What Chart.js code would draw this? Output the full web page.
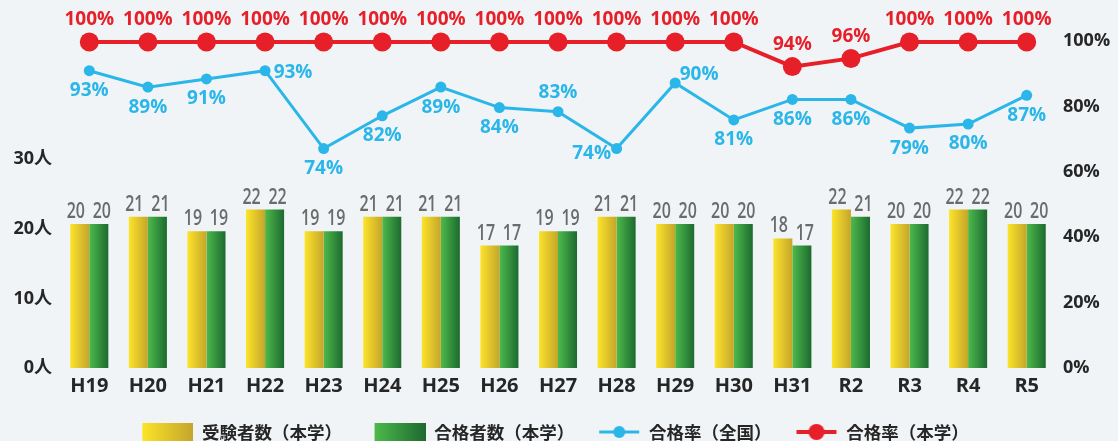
<!DOCTYPE html>
<html lang="ja">
<head>
<meta charset="utf-8">
<title>合格率の推移</title>
<script src="https://cdn.jsdelivr.net/npm/chart.js@4.4.1/dist/chart.umd.min.js"></script>
<style>
  html, body { margin: 0; padding: 0; background: #f1f4f6; }
  #wrap { width: 1118px; height: 441px; }
</style>
</head>
<body>
<div id="wrap"><canvas id="passChart" width="1118" height="441"></canvas></div>
<script>
const years = ['H19', 'H20', 'H21', 'H22', 'H23', 'H24', 'H25', 'H26', 'H27', 'H28', 'H29', 'H30', 'H31', 'R2', 'R3', 'R4', 'R5'];
const examinees = [20, 21, 19, 22, 19, 21, 21, 17, 19, 21, 20, 20, 18, 22, 20, 22, 20];
const passers = [20, 21, 19, 22, 19, 21, 21, 17, 19, 21, 20, 20, 17, 21, 20, 22, 20];
const rateNational = [93, 89, 91, 93, 74, 82, 89, 84, 83, 74, 90, 81, 86, 86, 79, 80, 87];
const rateSchool = [100, 100, 100, 100, 100, 100, 100, 100, 100, 100, 100, 100, 94, 96, 100, 100, 100];
const countTicks = [0, 10, 20, 30];
const rateTicks = [0, 20, 40, 60, 80, 100];
const legendNames = ['受験者数（本学）', '合格者数（本学）', '合格率（全国）', '合格率（本学）'];

// where each national-rate label sits next to its point
const nationalLabelPos = ['b', 'b', 'b', 'r', 'b', 'b', 'b', 'b', 'a', 'l', 'ra', 'b', 'b', 'b', 'b', 'b', 'b'];
const labelOffsets = { b: [0, 20], a: [0, -19], r: [28, 2], l: [-25, 5], ra: [24, -8] };
// extra space after each key entry (the printed key is not evenly spaced)
const legendTail = ['\u2002\u2002', '', '', ''];

const YELLOW = ['#fce42a', '#c5a52b'];
const GREEN = ['#4dba4b', '#1d6a30'];
const BLUE = '#2bb6e9';
const RED = '#e61f29';
const INK = '#262626';

function barIcon(colors) {
    const c = document.createElement('canvas');
    c.width = 52; c.height = 20;
    const g = c.getContext('2d');
    const grad = g.createLinearGradient(1, 0, 52, 0);
    grad.addColorStop(0, colors[0]);
    grad.addColorStop(1, colors[1]);
    g.fillStyle = grad;
    g.fillRect(1, 1, 51, 18);
    return c;
}

function lineIcon(color, r, w) {
    const c = document.createElement('canvas');
    c.width = 52; c.height = 20;
    const g = c.getContext('2d');
    g.strokeStyle = color;
    g.lineWidth = w;
    g.beginPath();
    g.moveTo(11, 10); g.lineTo(51, 10);
    g.stroke();
    g.fillStyle = color;
    g.beginPath();
    g.arc(31, 10, r, 0, Math.PI * 2);
    g.fill();
    return c;
}

const legendIcons = [barIcon(YELLOW), barIcon(GREEN), lineIcon(BLUE, 6, 3), lineIcon(RED, 8, 4)];

// gradients need the bar's final x and width, so they are set just before drawing
const barGradients = {
    id: 'barGradients',
    beforeDatasetsDraw(chart) {
        const ctx = chart.ctx;
        chart.data.datasets.forEach((ds, i) => {
            if (ds.type !== 'bar') return;
            chart.getDatasetMeta(i).data.forEach(bar => {
                const g = ctx.createLinearGradient(bar.x - bar.width / 2, 0, bar.x + bar.width / 2, 0);
                g.addColorStop(0, ds.grad[0]);
                g.addColorStop(1, ds.grad[1]);
                bar.options.backgroundColor = g;
            });
        });
    }
};

const valueLabels = {
    id: 'valueLabels',
    afterDatasetsDraw(chart) {
        const ctx = chart.ctx;
        ctx.save();
        ctx.textAlign = 'center';
        ctx.textBaseline = 'middle';
        chart.data.datasets.forEach((ds, i) => {
            const meta = chart.getDatasetMeta(i);
            meta.data.forEach((el, j) => {
                if (ds.type === 'bar') {
                    ctx.font = '600 21px "Open Sans", sans-serif';
                    ctx.fillStyle = '#6b6b6b';
                    ctx.save();
                    ctx.translate(el.x + (i === 0 ? -4 : 3), el.y - 12);
                    ctx.scale(0.76, 1);
                    ctx.fillText(String(ds.data[j]), 0, 0);
                    ctx.restore();
                } else {
                    ctx.font = 'bold 19px "Open Sans", sans-serif';
                    ctx.fillStyle = ds.borderColor;
                    const off = ds.label === legendNames[2] ? labelOffsets[nationalLabelPos[j]] : [0, -22];
                    ctx.fillText(ds.data[j] + '%', el.x + off[0], el.y + off[1]);
                }
            });
        });
        ctx.restore();
    }
};

new Chart(document.getElementById('passChart'), {
    data: {
        labels: years,
        datasets: [{
            type: 'bar',
            label: legendNames[0],
            data: examinees,
            yAxisID: 'yBar',
            grad: YELLOW,
            backgroundColor: () => YELLOW[0],
            categoryPercentage: 0.65,
            barPercentage: 1,
            order: 2
        }, {
            type: 'bar',
            label: legendNames[1],
            data: passers,
            yAxisID: 'yBar',
            grad: GREEN,
            backgroundColor: () => GREEN[0],
            categoryPercentage: 0.65,
            barPercentage: 1,
            order: 2
        }, {
            type: 'line',
            label: legendNames[2],
            data: rateNational,
            yAxisID: 'yRate',
            borderColor: BLUE,
            backgroundColor: BLUE,
            borderWidth: 3,
            pointRadius: 5.5,
            pointBorderWidth: 0,
            order: 1
        }, {
            type: 'line',
            label: legendNames[3],
            data: rateSchool,
            yAxisID: 'yRate',
            borderColor: RED,
            backgroundColor: RED,
            borderWidth: 4,
            pointRadius: 9.5,
            pointBorderWidth: 0,
            order: 0
        }]
    },
    options: {
        responsive: false,
        animation: false,
        layout: { padding: { top: 30, right: 0, bottom: -9.75, left: -8 } },
        plugins: {
            tooltip: { enabled: false },
            legend: {
                position: 'bottom',
                labels: {
                    usePointStyle: true,
                    pointStyleWidth: 52,
                    padding: 14,
                    color: INK,
                    font: { family: '"Noto Sans CJK JP"', size: 17.5, weight: 'bold' },
                    generateLabels: () => legendNames.map((name, i) => ({
                        text: name + legendTail[i],
                        pointStyle: legendIcons[i],
                        fontColor: INK,
                        datasetIndex: i,
                        lineWidth: 0,
                        hidden: false
                    }))
                }
            }
        },
        scales: {
            x: {
                grid: { display: false },
                border: { display: false },
                ticks: { color: INK, padding: -2, font: { family: '"Open Sans"', size: 20, weight: 'bold' } },
                afterFit: s => { s.height = 41.25; }
            },
            yBar: { display: false, min: 0, max: 46.94 },
            yRate: { display: false, min: 20.49, max: 102.93 },
            yL: {
                position: 'left',
                min: 0,
                max: 48.6,
                grid: { display: false, drawTicks: false },
                border: { display: false },
                ticks: {
                    padding: 8,
                    color: INK,
                    font: { family: '"Open Sans", "Noto Sans CJK JP"', size: 18, weight: 'bold' },
                    callback: v => v + '人'
                },
                afterBuildTicks: s => { s.ticks = countTicks.map(v => ({ value: v })); },
                afterFit: s => { s.width = 68; }
            },
            yR: {
                position: 'right',
                min: 0,
                max: 103.36,
                grid: { display: false, drawTicks: false },
                border: { display: false },
                ticks: {
                    padding: 7,
                    color: INK,
                    font: { family: '"Open Sans"', size: 18, weight: 'bold' },
                    callback: v => v + '%'
                },
                afterBuildTicks: s => { s.ticks = rateTicks.map(v => ({ value: v })); },
                afterFit: s => { s.width = 62; }
            }
        }
    },
    plugins: [barGradients, valueLabels]
});
</script>
</body>
</html>
